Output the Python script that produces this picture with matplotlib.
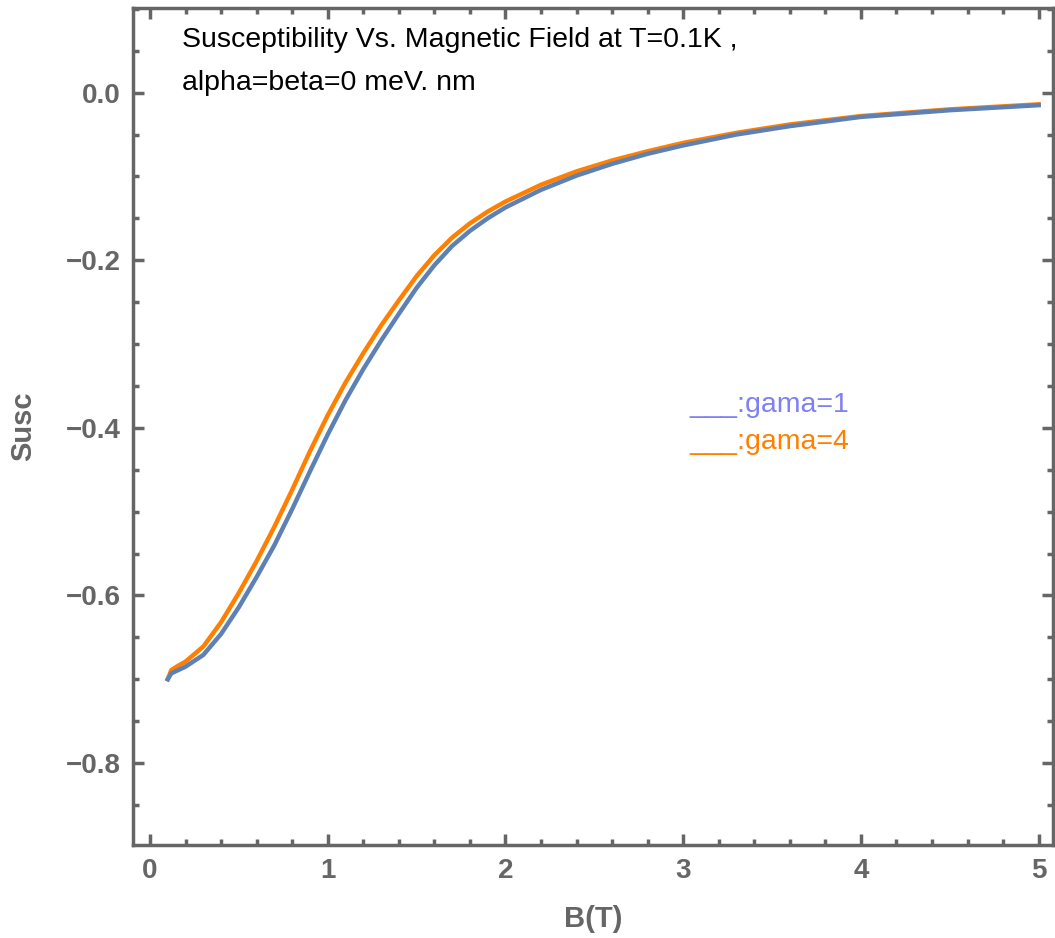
import matplotlib
matplotlib.use("Agg")
import matplotlib.pyplot as plt
from matplotlib.ticker import MultipleLocator

# data
B = [0.1, 0.12, 0.15, 0.2, 0.3, 0.4, 0.5, 0.6, 0.7, 0.8, 0.9, 1.0, 1.1, 1.2, 1.3,
     1.4, 1.5, 1.6, 1.7, 1.8, 1.9, 2.0, 2.2, 2.4, 2.6, 2.8, 3.0, 3.3, 3.6, 4.0, 4.5, 5.0]
susc_gama1 = [-0.700, -0.693, -0.690, -0.685, -0.671, -0.646, -0.614, -0.578, -0.540,
              -0.497, -0.452, -0.408, -0.367, -0.330, -0.296, -0.264, -0.233, -0.206,
              -0.183, -0.165, -0.150, -0.137, -0.116, -0.099, -0.085, -0.073, -0.063,
              -0.050, -0.040, -0.029, -0.021, -0.015]
susc_gama4 = [-0.700, -0.689, -0.685, -0.679, -0.661, -0.632, -0.597, -0.559, -0.518,
              -0.474, -0.428, -0.385, -0.346, -0.311, -0.278, -0.248, -0.219, -0.194,
              -0.173, -0.156, -0.142, -0.130, -0.110, -0.094, -0.081, -0.070, -0.060,
              -0.048, -0.038, -0.028, -0.020, -0.014]

plt.rcParams['font.family'] = ['Liberation Sans', 'DejaVu Sans']
gray = '#666666'

fig = plt.figure(figsize=(10.55, 9.38), dpi=100)
ax = fig.add_axes([0.126, 0.099, 0.872, 0.8925])

# 曲线
ax.plot(B, susc_gama4, color='#ff8000', linewidth=3.2, solid_joinstyle='round', zorder=2)
ax.plot(B, susc_gama1, color='#5e81b5', linewidth=3.2, solid_joinstyle='round', zorder=3)

ax.set_xlim(-0.096, 5.08)
ax.set_ylim(-0.898, 0.101)

# 边框和刻度
for sp in ax.spines.values():
    sp.set_color(gray)
    sp.set_linewidth(2.5)
ax.xaxis.set_major_locator(MultipleLocator(1))
ax.xaxis.set_minor_locator(MultipleLocator(0.2))
ax.yaxis.set_major_locator(MultipleLocator(0.2))
ax.yaxis.set_minor_locator(MultipleLocator(0.05))
ax.tick_params(which='both', direction='in', top=True, right=True, color=gray,
               labelcolor=gray, labelsize=20)
ax.tick_params(which='major', length=8, width=2.5, pad=9)
ax.tick_params(which='minor', length=4, width=2.5)
for lab in ax.get_xticklabels() + ax.get_yticklabels():
    lab.set_fontweight('bold')
ax.yaxis.set_major_formatter(plt.FuncFormatter(lambda v, p: ('%.1f' % v).replace('-', '\u2212')))

ax.set_xlabel('B(T)', fontsize=21, fontweight='bold', color=gray)
ax.set_ylabel('Susc', fontsize=21, fontweight='bold', color=gray)
ax.xaxis.set_label_coords(0.5, -0.072)
ax.yaxis.set_label_coords(-0.104, 0.5)

# 标题文字
ax.text(0.0533, 0.962, 'Susceptibility Vs. Magnetic Field at T=0.1K ,', transform=ax.transAxes,
        fontsize=20.5, va='center', ha='left', color='black')
ax.text(0.0533, 0.910, 'alpha=beta=0 meV. nm', transform=ax.transAxes,
        fontsize=20.5, va='center', ha='left', color='black')

# 图例文字
ax.text(0.6054, 0.5257, '___:gama=1', transform=ax.transAxes, fontsize=20.5,
        va='center', ha='left', color='#7f80f4')
ax.text(0.6054, 0.4815, '___:gama=4', transform=ax.transAxes, fontsize=20.5,
        va='center', ha='left', color='#ff8000')

fig.savefig('out.png', dpi=100)
